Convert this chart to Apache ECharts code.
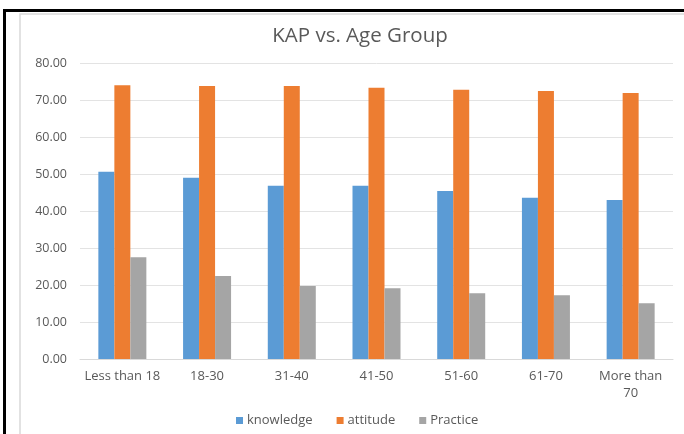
<!DOCTYPE html>
<html>
<head>
<meta charset="utf-8">
<script src="https://cdn.jsdelivr.net/npm/echarts@6/dist/echarts.min.js"></script>
<style>
html,body{margin:0;padding:0;background:#fff;}
#chart{width:684px;height:434px;}
</style>
</head>
<body>
<div id="chart"></div>
<script>
const categories = ['Less than 18', '18-30', '31-40', '41-50', '51-60', '61-70', 'More than\n70'];
const knowledge = [50.6, 49.0, 46.8, 46.8, 45.4, 43.6, 43.0];
const attitude = [74.0, 73.8, 73.8, 73.3, 72.8, 72.4, 71.9];
const practice = [27.5, 22.4, 19.7, 19.1, 17.8, 17.2, 15.1];
const yTicks = { min: 0, max: 80, interval: 10 };

const FONT = '"Open Sans", "Liberation Sans", sans-serif';
const chart = echarts.init(document.getElementById('chart'), null, { renderer: 'canvas' });
const barStyle = (color) => ({ type: 'bar', barWidth: 16, barGap: '0%', itemStyle: { color }, emphasis: { disabled: true } });

chart.setOption({
  animation: false,
  backgroundColor: '#ffffff',
  textStyle: { fontFamily: FONT },
  title: {
    text: 'KAP vs. Age Group',
    left: 355, top: 21, textAlign: 'center',
    textStyle: { fontFamily: FONT, fontSize: 20.5, fontWeight: 'normal', color: '#595959' }
  },
  legend: {
    data: ['knowledge', 'attitude', 'Practice'],
    left: 231, top: 409,
    itemWidth: 7, itemHeight: 7, itemGap: 24, icon: 'rect',
    textStyle: { fontFamily: FONT, fontSize: 13, color: '#595959', padding: [0, 0, 0, -1] }
  },
  grid: { left: 80, right: 11, top: 63, bottom: 75, containLabel: false },
  xAxis: {
    type: 'category', data: categories,
    axisLine: { lineStyle: { color: '#d9d9d9' } },
    axisTick: { show: false },
    axisLabel: { color: '#595959', fontSize: 13, margin: 9, interval: 0, lineHeight: 17, fontFamily: FONT }
  },
  yAxis: {
    type: 'value', min: yTicks.min, max: yTicks.max, interval: yTicks.interval,
    axisLine: { show: false }, axisTick: { show: false },
    splitLine: { lineStyle: { color: '#e3e3e3' } },
    axisLabel: { color: '#595959', fontSize: 12.5, margin: 13, fontFamily: FONT, formatter: (v) => v.toFixed(2) }
  },
  series: [
    Object.assign(barStyle('#5B9BD5'), { name: 'knowledge', data: knowledge }),
    Object.assign(barStyle('#ED7D31'), { name: 'attitude', data: attitude }),
    Object.assign(barStyle('#A5A5A5'), { name: 'Practice', data: practice })
  ],
  graphic: [
    { type: 'rect', shape: { x: 20, y: 14, width: 700, height: 440 }, style: { fill: 'none', stroke: '#d9d9d9', lineWidth: 1.5 }, silent: true },
    { type: 'rect', shape: { x: 3, y: 9, width: 681, height: 3 }, style: { fill: '#000' }, silent: true },
    { type: 'rect', shape: { x: 3, y: 9, width: 3, height: 425 }, style: { fill: '#000' }, silent: true }
  ]
});
</script>
</body>
</html>
